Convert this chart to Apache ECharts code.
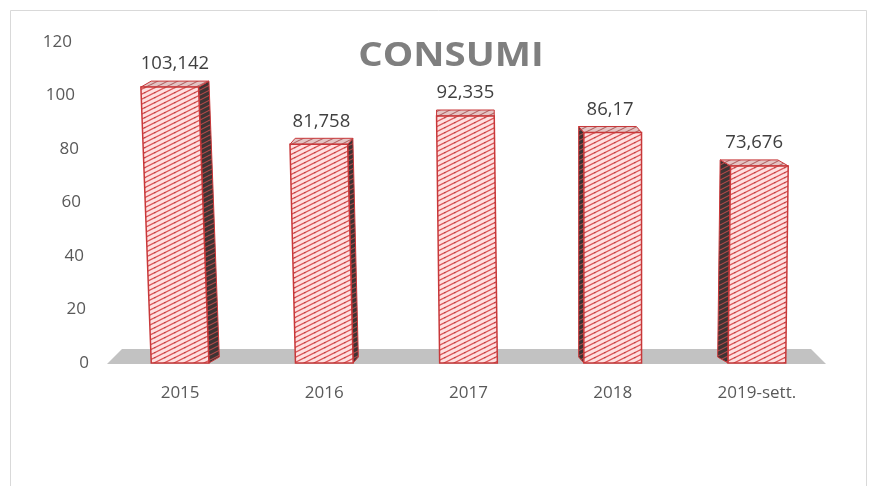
<!DOCTYPE html>
<html>
<head>
<meta charset="utf-8">
<script src="https://cdn.jsdelivr.net/npm/echarts@6/dist/echarts.min.js"></script>
<style>
  html, body { margin: 0; padding: 0; background: #fff; }
  #chart { width: 874px; height: 486px; }
</style>
</head>
<body>
<div id="chart"></div>
<script>
// Annual consumption figures
const categories = ['2015', '2016', '2017', '2018', '2019-sett.'];
const consumi = [103.142, 81.758, 92.335, 86.17, 73.676];
const yTicks = [0, 20, 40, 60, 80, 100, 120];

// Italian decimal comma
const fmt = v => String(v).replace('.', ',');

// Small tiled canvas with shallow diagonal stripes, used as a fill pattern
function hatch(bg, line, lw, dot) {
  const c = document.createElement('canvas');
  c.width = 10; c.height = 5;
  const g = c.getContext('2d');
  g.fillStyle = bg;
  g.fillRect(0, 0, 10, 5);
  g.strokeStyle = line;
  g.lineWidth = lw;
  for (let k = 0; k <= 2; k++) {
    g.beginPath();
    g.moveTo(-1, 5 * k + 0.5);
    g.lineTo(11, 5 * k - 5.5);
    g.stroke();
  }
  if (dot) {
    g.fillStyle = dot;
    g.fillRect(4, 2, 1.5, 1.2);
  }
  return { image: c, repeat: 'repeat' };
}

const frontFill = hatch('#fde0e0', '#dc5456', 1.25, '#b84446');
const sideFill = hatch('#3e3434', '#b84a4a', 1.1);
const topFill = hatch('#e4c4c4', '#b06262', 1.1);
const edge = '#c8383a';

// Grey floor under the columns
function renderFloor(params, api) {
  const cs = params.coordSys;
  const y0 = cs.y + cs.height;
  const l = cs.x, r = cs.x + cs.width;
  return {
    type: 'polygon',
    shape: { points: [[l - 1, y0 + 1], [r - 3, y0 + 1], [r - 18, y0 - 14], [l + 14, y0 - 14]] },
    style: { fill: '#c2c2c2' },
    silent: true
  };
}

// Perspective column: front face, visible side face, top face and value label
function renderBar(params, api) {
  const i = api.value(0), v = api.value(1);
  const base = api.coord([i, 0]);
  const top = api.coord([i, v]);
  const band = api.size([1, 0])[0];
  const w = band * 0.4;
  const cx = base[0], yB = base[1], yT = top[1];
  const sideVp = api.coord([2, 0])[0];
  const leanVp = api.coord([2.9, 0])[0];
  const sd = (sideVp - cx) * 0.036;
  const dy = 6;
  const lean = (cx - leanVp) * (yB - yT) * 8.7e-5;

  const BL = [cx - w / 2, yB], BR = [cx + w / 2, yB];
  const TL = [cx - w / 2 + lean, yT], TR = [cx + w / 2 + lean, yT];
  const off = p => [p[0] + sd, p[1] - dy];

  const children = [];
  if (Math.abs(sd) >= 1) {
    const pts = sd > 0 ? [TR, off(TR), off(BR), BR] : [TL, off(TL), off(BL), BL];
    children.push({
      type: 'polygon', shape: { points: pts },
      style: { fill: sideFill, stroke: edge, lineWidth: 1 }
    });
  }
  children.push({
    type: 'polygon', shape: { points: [TL, TR, off(TR), off(TL)] },
    style: { fill: topFill, stroke: edge, lineWidth: 1 }
  });
  children.push({
    type: 'polygon', shape: { points: [BL, BR, TR, TL] },
    style: { fill: frontFill, stroke: edge, lineWidth: 1.5 }
  });
  children.push({
    type: 'text',
    style: {
      text: fmt(v),
      x: cx + lean + sd / 2,
      y: yT - dy - 17,
      align: 'center',
      verticalAlign: 'middle',
      fill: '#404040',
      font: '18.5px "Open Sans"'
    }
  });
  return { type: 'group', children };
}

// Tick labels drift right toward the base, following the tilted axis
const tickShift = { 0: 0, 20: 3, 40: 5, 60: 8, 80: 10, 100: 14, 120: 17 };
const rich = {};
yTicks.forEach(t => {
  rich['p' + t] = {
    padding: [0, tickShift[t], 0, 0],
    fontSize: 17, color: '#595959', fontFamily: 'Open Sans'
  };
});

const chart = echarts.init(document.getElementById('chart'));
chart.setOption({
  animation: false,
  backgroundColor: '#ffffff',
  grid: { left: 108, right: 45, top: 42, bottom: 123 },
  graphic: [
    {
      type: 'rect',
      shape: { x: 10.5, y: 10.5, width: 856, height: 490 },
      style: { fill: 'none', stroke: '#d9d9d9', lineWidth: 1 },
      silent: true, z: -10
    },
    {
      type: 'text',
      x: 451, y: 56, scaleX: 1.13,
      style: {
        text: 'CONSUMI',
        x: 0, y: 0,
        align: 'center', verticalAlign: 'middle',
        fill: '#7f7f7f',
        font: 'bold 34px "Open Sans"'
      }
    }
  ],
  xAxis: {
    type: 'category',
    data: categories,
    axisLine: { show: false },
    axisTick: { show: false },
    axisLabel: { margin: 22, fontSize: 17, color: '#595959', fontFamily: 'Open Sans' }
  },
  yAxis: {
    type: 'value',
    min: yTicks[0],
    max: yTicks[yTicks.length - 1],
    interval: 20,
    axisLine: { show: false },
    axisTick: { show: false },
    splitLine: { show: false },
    axisLabel: {
      margin: 19,
      formatter: v => '{p' + v + '|' + v + '}',
      rich
    }
  },
  series: [
    {
      type: 'custom',
      renderItem: renderFloor,
      data: [[0, 0]],
      clip: false,
      silent: true,
      z: 1
    },
    {
      type: 'custom',
      renderItem: renderBar,
      encode: { x: 0, y: 1 },
      data: consumi.map((v, i) => [i, v]),
      clip: false,
      z: 2
    }
  ]
});
</script>
</body>
</html>
